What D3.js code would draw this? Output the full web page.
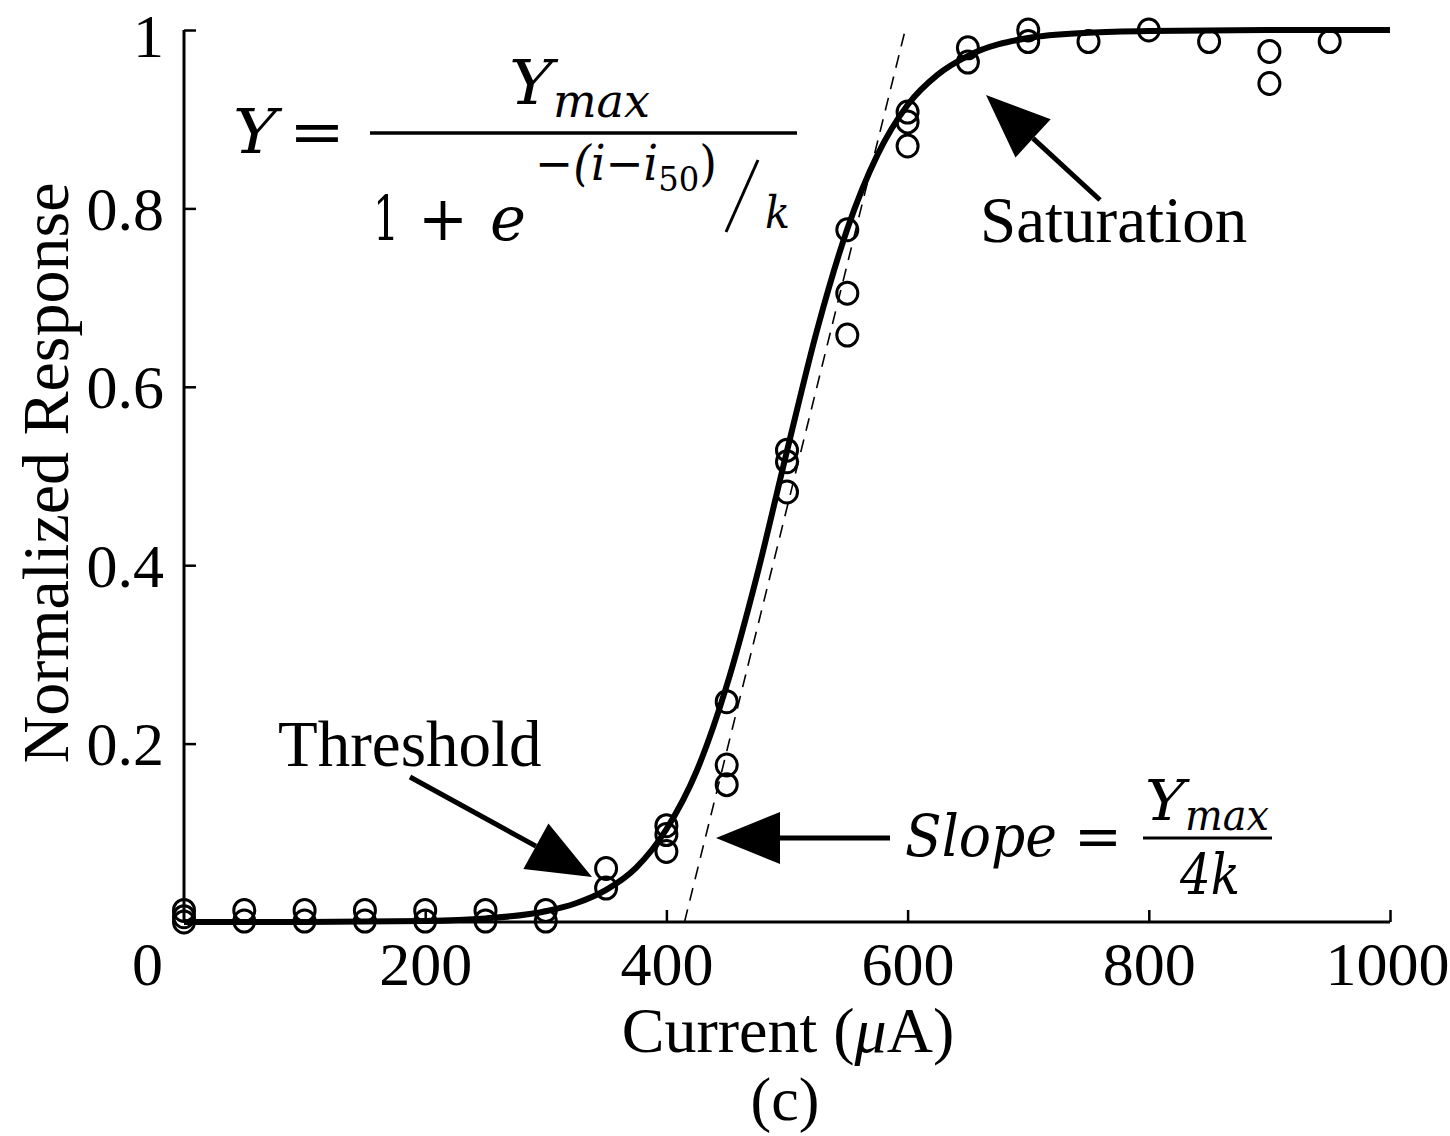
<!DOCTYPE html>
<html><head><meta charset="utf-8">
<script src="https://cdn.jsdelivr.net/npm/d3@7"></script>
<style>
html,body{margin:0;padding:0;background:#fff;}
text{font-family:"Liberation Serif","Times New Roman",serif;fill:#000;}
.m{font-family:"DejaVu Serif",serif;}
</style></head>
<body>
<svg id="c" width="1450" height="1136"></svg>
<script>
// ---- data ----
const xTicks = [0, 200, 400, 600, 800, 1000];
const yTicks = [0.2, 0.4, 0.6, 0.8, 1];
const xTickLabels = ["0", "200", "400", "600", "800", "1000"];
const yTickLabels = ["0.2", "0.4", "0.6", "0.8", "1"];
const pointCurrent = [0,0,0, 50,50, 100,100, 150,150, 200,200, 250,250, 300,300,
  350,350, 400,400,400, 450,450,450, 500,500,500, 550,550,550, 600,600,600,
  650,650, 700,700, 750, 800, 850, 900,900, 950];
const pointResponse = [0.013,0.006,0.0, 0.013,0.001, 0.013,0.001, 0.013,0.001, 0.013,0.001, 0.013,0.001, 0.013,0.001,
  0.060,0.038, 0.108,0.098,0.079, 0.247,0.176,0.154, 0.529,0.516,0.482, 0.776,0.705,0.658, 0.908,0.897,0.870,
  0.980,0.964, 1.0,0.987, 0.987, 1.0, 0.987, 0.976,0.940, 0.987];
const fitCurrent = [0,100,200,250,300,325,350,375,400,425,450,475,500,525,550,575,600,625,650,700,750,800,900,1000];
const fitResponse = [0.000,0.0001,0.0012,0.004,0.012,0.021,0.036,0.061,0.104,0.169,0.265,0.388,0.528,0.664,0.777,0.860,0.916,0.950,0.971,0.991,0.997,0.999,1.0,1.0];
const slopeLineCurrent = [415, 598];
const slopeLineResponse = [0, 1];

// ---- layout ----
const svg = d3.select("#c");
const x = d3.scaleLinear().domain([0, 1000]).range([184, 1390]);
const y = d3.scaleLinear().domain([0, 1]).range([922, 30]);
const FS = 62;

// axes
const xAxis = svg.append("g").attr("transform", "translate(0,922)")
  .call(d3.axisBottom(x).tickValues(xTicks).tickSize(-12).tickPadding(21)
    .tickFormat((d,i) => xTickLabels[i]));
const yAxis = svg.append("g").attr("transform", "translate(184,0)")
  .call(d3.axisLeft(y).tickValues(yTicks).tickSize(-12).tickPadding(20)
    .tickFormat((d,i) => yTickLabels[i]));
[xAxis, yAxis].forEach(g => {
  g.select(".domain").attr("stroke", "#000").attr("stroke-width", 3);
  g.selectAll(".tick line").attr("stroke", "#000").attr("stroke-width", 2.5);
  g.selectAll(".tick text").attr("font-size", FS).attr("font-family", "Liberation Serif").attr("fill", "#000");
});
xAxis.select(".domain").attr("d", "M184,0H1390");
yAxis.select(".domain").attr("d", "M0,922V30");
xAxis.selectAll(".tick text").attr("dy", "0.68em");
xAxis.selectAll(".tick").filter(d => d === 0).select("text").attr("dx", -37);
xAxis.selectAll(".tick").filter(d => d === 0).select("line").remove();
xAxis.selectAll(".tick").filter(d => d === 1000).select("text").attr("dx", -3);
yAxis.selectAll(".tick text").attr("dy", "0.34em").attr("dx", 0);
yAxis.selectAll(".tick").filter(d => d === 1).select("text").attr("dy", "0.42em");

// dashed slope line
svg.append("line")
  .attr("x1", x(slopeLineCurrent[0])).attr("y1", y(slopeLineResponse[0]))
  .attr("x2", x(slopeLineCurrent[1])).attr("y2", y(slopeLineResponse[1]))
  .attr("stroke", "#000").attr("stroke-width", 1.6).attr("stroke-dasharray", "13,9");

// fit curve
const fit = fitCurrent.map((c,i) => [c, fitResponse[i]]);
svg.append("path").datum(fit)
  .attr("d", d3.line().x(d => x(d[0])).y(d => y(d[1])).curve(d3.curveMonotoneX))
  .attr("fill", "none").attr("stroke", "#000").attr("stroke-width", 6);

// points
const pts = pointCurrent.map((c,i) => [c, pointResponse[i]]);
svg.append("g").selectAll("ellipse").data(pts).join("ellipse")
  .attr("cx", d => x(d[0])).attr("cy", d => y(d[1])).attr("rx", 10.5).attr("ry", 11)
  .attr("fill", "none").attr("stroke", "#000").attr("stroke-width", 3);

// axis titles
svg.append("text").attr("transform", "translate(68,473) rotate(-90)")
  .attr("text-anchor", "middle").attr("font-size", 66).text("Normalized Response");
const xt = svg.append("text").attr("x", 788).attr("y", 1052).attr("text-anchor", "middle").attr("font-size", 64);
xt.append("tspan").text("Current (");
xt.append("tspan").attr("font-style", "italic").text("μ");
xt.append("tspan").text("A)");
svg.append("text").attr("x", 785).attr("y", 1120).attr("text-anchor", "middle").attr("font-size", 62).text("(c)");

// annotations
svg.append("text").attr("x", 278).attr("y", 766).attr("font-size", 65).text("Threshold");
svg.append("text").attr("x", 980).attr("y", 242).attr("font-size", 65).text("Saturation");

function arrow(x1, y1, x2, y2, hl, hw) {
  const a = Math.atan2(y2 - y1, x2 - x1);
  const bx = x2 - hl * Math.cos(a), by = y2 - hl * Math.sin(a);
  svg.append("line").attr("x1", x1).attr("y1", y1).attr("x2", bx).attr("y2", by)
    .attr("stroke", "#000").attr("stroke-width", 5);
  const px = -Math.sin(a) * hw / 2, py = Math.cos(a) * hw / 2;
  svg.append("path").attr("d", `M${x2},${y2}L${bx + px},${by + py}L${bx},${by}L${bx - px},${by - py}Z`)
    .attr("fill", "#000");
}
arrow(410, 777, 592, 877, 64, 52);
arrow(1100, 200, 986, 95, 64, 52);
arrow(890, 838, 716, 838, 64, 52);

// formula 1
function mt(xp, yp, size, txt, len, italic) {
  const t = svg.append("text").attr("class", "m").attr("x", xp).attr("y", yp).attr("font-size", size).text(txt)
    .style("font-style", italic ? "italic" : "normal");
  if (len) t.attr("textLength", len).attr("lengthAdjust", "spacingAndGlyphs");
  return t;
}
mt(233, 153, 62, "Y", 44, true);
mt(289, 153, 62, "=", 56, false);
svg.append("line").attr("x1", 370).attr("x2", 797).attr("y1", 133).attr("y2", 133).attr("stroke", "#000").attr("stroke-width", 3.5);
mt(509, 104, 62, "Y", 44, true);
mt(553, 117, 46, "max", 97, true);
mt(373, 240, 62, "1", 26, false);
mt(418, 240, 62, "+", 50, false);
mt(490, 240, 62, "e", 36, true);
const ex = svg.append("text").attr("class", "m").attr("x", 535).attr("y", 180).attr("font-size", 48)
  .style("font-style", "italic").attr("textLength", 182).attr("lengthAdjust", "spacingAndGlyphs");
ex.append("tspan").text("−(i−i");
ex.append("tspan").attr("font-size", 34).attr("dy", 11).style("font-style", "normal").text("50");
ex.append("tspan").attr("dy", -11).style("font-style", "normal").text(")");
svg.append("line").attr("x1", 758).attr("y1", 160).attr("x2", 726).attr("y2", 232).attr("stroke", "#000").attr("stroke-width", 3);
mt(765, 228, 44, "k", 25, true);

// slope formula
mt(905, 856, 58, "Slope", 152, true);
mt(1074, 856, 58, "=", 48, false);
svg.append("line").attr("x1", 1143).attr("x2", 1272).attr("y1", 838).attr("y2", 838).attr("stroke", "#000").attr("stroke-width", 3);
mt(1145, 820, 56, "Y", 40, true);
mt(1185, 830, 42, "max", 84, true);
mt(1180, 894, 56, "4k", 60, true);
</script>
</body></html>
